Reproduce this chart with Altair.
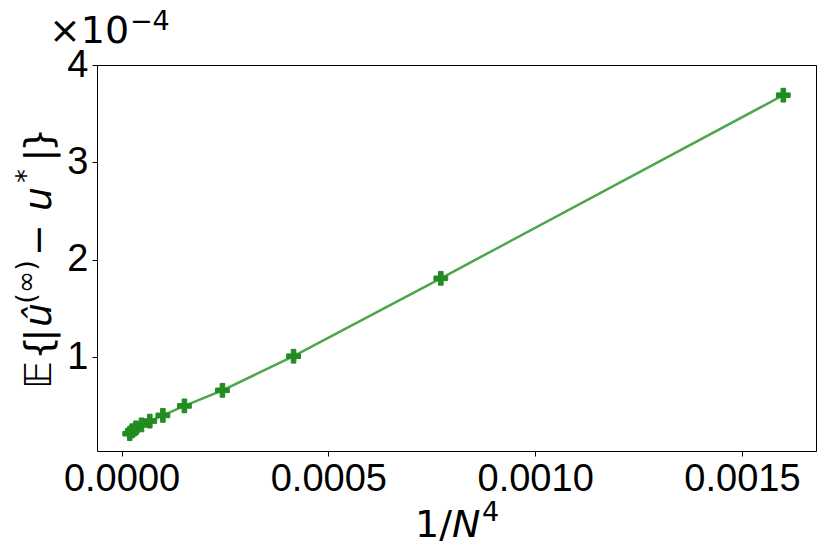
import altair as alt
import pandas as pd

# ---- data ----
inv_n4 = [0.0016, 0.000772, 0.000416, 0.000244, 0.000152, 0.0001,
          0.0000683, 0.0000482, 0.000035, 0.000026, 0.0000198]
err_e4 = [3.69, 1.81, 1.01, 0.66, 0.50, 0.403, 0.344, 0.305, 0.275, 0.245, 0.215]
x_ticks = [0.0, 0.0005, 0.001, 0.0015]
y_ticks = [1, 2, 3, 4]

df = pd.DataFrame({"x": inv_n4, "y": err_e4})

W, H = 719, 386
FONT = "Liberation Sans"
MATH = "DejaVu Sans"
FS = 38
SUP = 27

xscale = alt.Scale(domain=[-5.93e-5, 0.001679], nice=False, zero=False)
yscale = alt.Scale(domain=[0.037, 4.0], nice=False, zero=False)

xaxis = alt.Axis(values=x_ticks, format=".4f", title=None, grid=False,
                 labelFont=FONT, labelFontSize=FS, labelColor="black",
                 tickColor="black", tickSize=5, tickWidth=1, labelPadding=4,
                 domainColor="black", labelFlush=False, labelOverlap=False)
yaxis = alt.Axis(values=y_ticks, format="d", title=None, grid=False,
                 labelFont=FONT, labelFontSize=FS, labelColor="black",
                 tickColor="black", tickSize=5, tickWidth=1, labelPadding=4,
                 domainColor="black", labelFlush=False, labelOverlap=False)
# plain frame lines on top and right
xframe = alt.Axis(orient="top", labels=False, ticks=False, grid=False, title=None,
                  domainColor="black")
yframe = alt.Axis(orient="right", labels=False, ticks=False, grid=False, title=None,
                  domainColor="black")

base = alt.Chart(df)
frame = base.mark_point(opacity=0).encode(
    x=alt.X("x:Q", scale=xscale, axis=xframe),
    y=alt.Y("y:Q", scale=yscale, axis=yframe),
)
line = base.mark_line(color="#4ca64c", strokeWidth=2.5).encode(
    x=alt.X("x:Q", scale=xscale, axis=xaxis),
    y=alt.Y("y:Q", scale=yscale, axis=yaxis),
    order="x:Q",
)
PLUS = ("M-0.333,-1L-0.333,-0.333L-1,-0.333L-1,0.333L-0.333,0.333L-0.333,1"
        "L0.333,1L0.333,0.333L1,0.333L1,-0.333L0.333,-0.333L0.333,-1Z")
pts = base.mark_point(shape=PLUS, filled=True, size=190, color="#228B22",
                      stroke="#228B22", strokeWidth=1, opacity=1).encode(
    x=alt.X("x:Q", scale=xscale, axis=None), y=alt.Y("y:Q", scale=yscale, axis=None))


def txt(s, x, y, size=FS, angle=0, align="left", style="normal", font=MATH):
    return alt.Chart(pd.DataFrame({"t": [s]})).mark_text(
        text=s, font=font, fontSize=size, angle=angle, align=align,
        baseline="alphabetic", fontStyle=style, color="black"
    ).encode(x=alt.value(x), y=alt.value(y))


# page -> view coordinates: x-97, y-65
ox, oy = 97, 65
texts = []
# offset text  x10^-4
texts.append(txt("\u00d710", 49 - ox, 43 - oy))
texts.append(txt("\u22124", 130 - ox, 30 - oy, size=SUP))
# x label 1/N^4
texts.append(txt("1/", 415 - ox, 537 - oy))
texts.append(txt("N", 452 - ox, 537 - oy, style="italic"))
texts.append(txt("4", 482 - ox, 521 - oy, size=SUP))
# y label pieces (rotated, reading bottom to top)
bx = 51 - ox
sx = 35 - ox
pieces = [
    ("\U0001D53C", bx, 375, FS, "italic"),
    ("{", bx, 348, FS, "normal"),
    ("|", bx, 335, FS, "normal"),
    ("\u00fb", bx, 315, FS, "italic"),
    ("(\u221e)", sx, 282, SUP, "normal"),
    ("\u2212", bx, 240, FS, "normal"),
    ("u", bx, 199, FS, "italic"),
    ("*", sx, 176, SUP, "normal"),
    ("|", bx, 155, FS, "normal"),
    ("}", bx, 140, FS, "normal"),
]
for s, x, y, sz, st in pieces:
    texts.append(txt(s, x, y - oy, size=sz, angle=270, align="center", style=st))

plot = alt.layer(frame, line).resolve_axis(x="independent", y="independent")
chart = alt.layer(plot, pts, *texts).properties(
    width=W, height=H,
    autosize=alt.AutoSizeParams(type="none"),
    padding={"left": 89, "top": 57, "right": 6, "bottom": 96},
).configure_view(stroke=None).configure(background="white")

chart.save("out.html", embed_options={"renderer": "svg", "actions": False})
